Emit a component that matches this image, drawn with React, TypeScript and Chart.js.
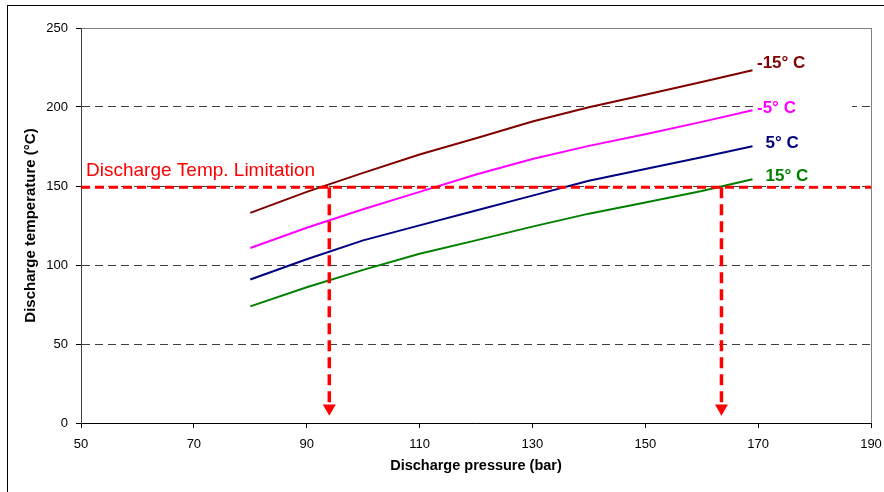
import React, { useEffect, useRef } from 'react';
import { Chart, registerables } from 'chart.js';

Chart.register(...registerables);

// ---- data ----
const pressures = [80, 90, 100, 110, 120, 130, 140, 150, 160, 169];
const tempMinus15 = [133.0, 146.3, 158.3, 169.9, 180.2, 190.8, 199.9, 207.7, 215.8, 223.3];
const tempMinus5 = [110.8, 123.6, 135.3, 146.3, 157.3, 167.1, 175.4, 182.7, 190.6, 198.0];
const temp5 = [90.8, 103.6, 115.6, 125.1, 134.5, 143.9, 153.3, 160.7, 168.2, 175.2];
const temp15 = [73.8, 85.9, 96.9, 107.1, 115.6, 124.3, 132.5, 139.6, 146.8, 154.3];

const seriesLabels = ['-15° C', '-5° C', '5° C', '15° C'];
const seriesColors = ['#800000', '#FF00FF', '#000080', '#008000'];

const limitTemp = 149.2;
const limitPressures = [94, 163.5];
const arrowEndTemp = 9.4;
const limitLabel = 'Discharge Temp. Limitation';

const xMin = 50;
const xMax = 190;
const xStep = 20;
const yMin = 0;
const yMax = 250;
const yStep = 50;

const xTitle = 'Discharge pressure (bar)';
const yTitle = 'Discharge temperature (°C)';

const FONT = "'Liberation Sans', Arial, Helvetica, sans-serif";

export default function App() {
  const canvasRef = useRef<HTMLCanvasElement | null>(null);

  useEffect(() => {
    const canvas = canvasRef.current;
    if (!canvas) return;

    const series = [tempMinus15, tempMinus5, temp5, temp15];
    const curveSets = series.map((vals, i) => ({
      label: seriesLabels[i],
      data: pressures.map((p, j) => ({ x: p, y: vals[j] })),
      borderColor: seriesColors[i],
      backgroundColor: seriesColors[i],
      borderWidth: 2,
      pointRadius: 0,
      tension: 0,
      order: 2,
    }));

    const limitLine = {
      label: 'limit',
      data: [
        { x: xMin, y: limitTemp },
        { x: xMax, y: limitTemp },
      ],
      borderColor: '#FF0000',
      borderWidth: 3,
      borderDash: [9, 5],
      pointRadius: 0,
      order: 0,
    };

    const arrowSets = limitPressures.map((p) => ({
      label: 'arrow',
      data: [
        { x: p, y: limitTemp },
        { x: p, y: arrowEndTemp },
      ],
      borderColor: '#FF0000',
      borderWidth: 3.5,
      borderDash: [11, 6],
      pointRadius: (ctx: any) => (ctx.dataIndex === 1 ? 7.5 : 0),
      pointStyle: 'triangle',
      pointRotation: 180,
      pointBackgroundColor: '#FF0000',
      pointBorderColor: '#FF0000',
      pointBorderWidth: 0,
      order: 0,
    }));

    const decor = {
      id: 'decor',
      beforeDraw(chart: any) {
        const { ctx, chartArea: a } = chart;
        ctx.save();
        ctx.fillStyle = '#FFFFFF';
        ctx.fillRect(0, 0, chart.width, chart.height);
        // outer chart border
        ctx.strokeStyle = '#000000';
        ctx.lineWidth = 1;
        ctx.strokeRect(7.5, 5.5, chart.width + 10, chart.height + 10);
        // plot area border
        ctx.strokeStyle = '#808080';
        ctx.strokeRect(Math.round(a.left) + 0.5, Math.round(a.top) + 0.5, Math.round(a.right - a.left), Math.round(a.bottom - a.top));
        ctx.restore();
      },
      afterDatasetsDraw(chart: any) {
        const { ctx, chartArea: a } = chart;
        const xs = chart.scales.x;
        const ys = chart.scales.y;
        const dx = [4.5, 4.5, 13, 13];
        const dy = [-8, -3, -3.4, -3.6];
        ctx.save();
        ctx.font = `bold 17px ${FONT}`;
        ctx.textBaseline = 'middle';
        ctx.textAlign = 'left';
        series.forEach((vals, i) => {
          const n = vals.length - 1;
          const px = xs.getPixelForValue(pressures[n]) + dx[i];
          const py = ys.getPixelForValue(vals[n]) + dy[i];
          ctx.fillStyle = '#FFFFFF';
          ctx.fillRect(px - 3, py - 10, 98, 20);
          ctx.fillStyle = seriesColors[i];
          ctx.fillText(seriesLabels[i], px, py + 1);
        });
        ctx.font = `19px ${FONT}`;
        ctx.fillStyle = '#FF0000';
        ctx.textBaseline = 'alphabetic';
        ctx.fillText(limitLabel, a.left + 5, ys.getPixelForValue(limitTemp) - 11);
        ctx.restore();
      },
    };

    const chart = new Chart(canvas, {
      type: 'line',
      data: { datasets: [limitLine, ...arrowSets, ...curveSets] as any },
      plugins: [decor],
      options: {
        animation: false,
        responsive: false,
        devicePixelRatio: 1,
        layout: { padding: { left: 0, top: 28, right: 13, bottom: 0 } },
        plugins: {
          legend: { display: false },
          tooltip: { enabled: false },
        },
        scales: {
          x: {
            type: 'linear',
            min: xMin,
            max: xMax,
            afterFit: (s: any) => {
              s.height = 69;
              s.paddingLeft = 0;
              s.paddingRight = 0;
            },
            ticks: {
              stepSize: xStep,
              padding: 9,
              color: '#000000',
              font: { family: FONT, size: 13 },
              maxRotation: 0,
            },
            grid: {
              drawOnChartArea: false,
              drawTicks: true,
              tickLength: 5,
              tickColor: '#000000',
            },
            border: { display: true, color: '#000000', width: 1 },
            title: {
              display: true,
              text: xTitle,
              color: '#000000',
              font: { family: FONT, size: 14.5, weight: 'bold' },
              padding: { top: 0, bottom: 17 },
            },
          },
          y: {
            type: 'linear',
            min: yMin,
            max: yMax,
            afterFit: (s: any) => {
              s.width = 81;
              s.paddingTop = 0;
              s.paddingBottom = 0;
            },
            ticks: {
              stepSize: yStep,
              padding: 8,
              color: '#000000',
              font: { family: FONT, size: 13 },
            },
            grid: {
              color: (ctx: any) =>
                ctx.tick && (ctx.tick.value === yMin || ctx.tick.value === yMax) ? 'rgba(0,0,0,0)' : '#404040',
              lineWidth: 1,
              drawTicks: true,
              tickLength: 5,
              tickColor: '#000000',
            },
            border: { display: true, color: '#404040', width: 1, dash: [8, 5] },
            title: {
              display: true,
              text: yTitle,
              color: '#000000',
              font: { family: FONT, size: 15, weight: 'bold' },
              padding: { top: 22, bottom: 0 },
            },
          },
        },
      } as any,
    });

    return () => {
      chart.destroy();
    };
  }, []);

  return (
    <div style={{ position: 'absolute', left: 0, top: 0, width: 884, height: 492, background: '#FFFFFF' }}>
      <canvas ref={canvasRef} width={884} height={492} style={{ display: 'block', width: 884, height: 492 }} />
    </div>
  );
}
